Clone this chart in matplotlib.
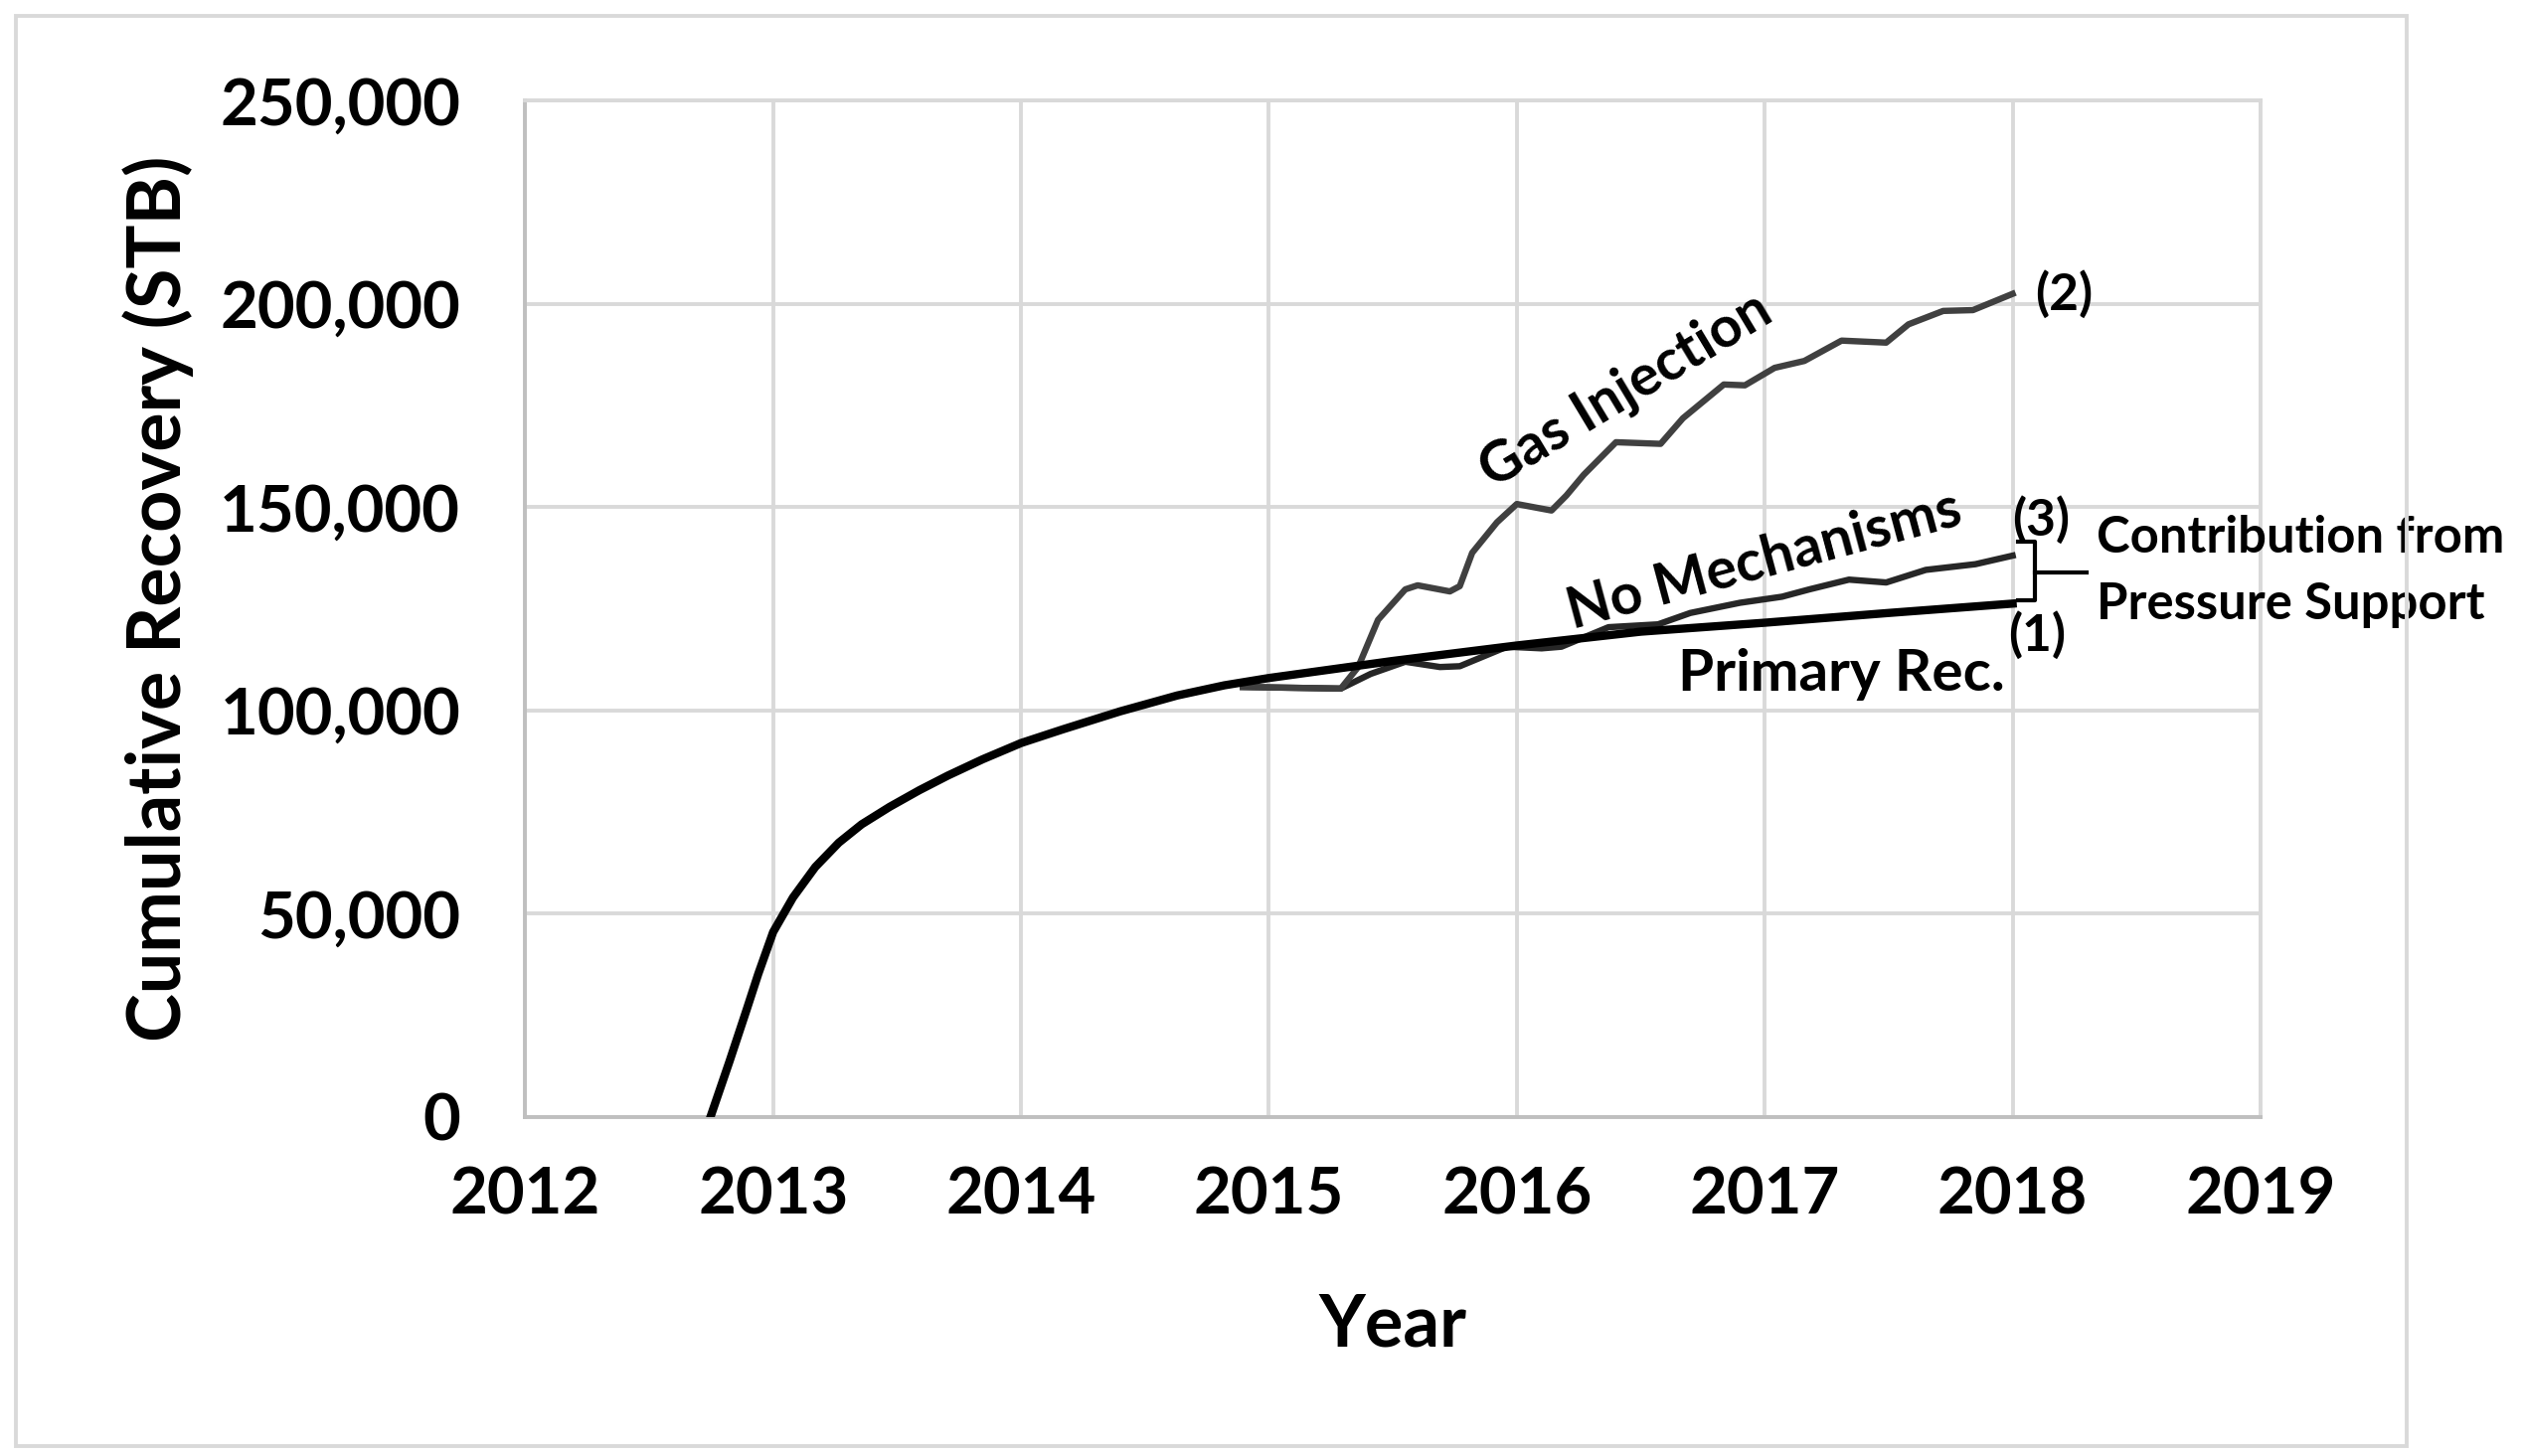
import matplotlib
matplotlib.use('Agg')
import matplotlib.pyplot as plt
from matplotlib.patches import Rectangle
from matplotlib.ticker import FuncFormatter

plt.rcParams['font.family'] = ['Lato', 'DejaVu Sans']
plt.rcParams['font.weight'] = 'bold'

# Values (year, cumulative STB in thousands)
primary_year = [2012.747, 2012.824, 2012.893, 2012.94, 2013.0, 2013.08, 2013.17,
                2013.265, 2013.357, 2013.47, 2013.59, 2013.705, 2013.845, 2014.0,
                2014.17, 2014.4, 2014.63, 2014.82, 2015.0, 2015.5, 2016.0, 2016.5,
                2017.0, 2017.5, 2018.0]
primary_stb = [0, 13.7, 26.4, 35.2, 45.5, 54.0, 61.5, 67.5, 72.0, 76.3, 80.4, 84.0,
               88.0, 92.0, 95.4, 99.8, 103.7, 106.2, 108.0, 112.2, 116.0, 119.4,
               121.6, 124.0, 126.3]

gas_year = [2014.895, 2015.29, 2015.36, 2015.44, 2015.55, 2015.6, 2015.73, 2015.77,
            2015.82, 2015.92, 2016.0, 2016.14, 2016.2, 2016.27, 2016.4, 2016.58,
            2016.67, 2016.835, 2016.92, 2017.04, 2017.16, 2017.31, 2017.49, 2017.58,
            2017.72, 2017.84, 2018.0]
gas_stb = [105.8, 105.4, 110.7, 122.3, 129.8, 130.8, 129.3, 130.6, 138.8, 146.3,
           150.8, 149.2, 152.9, 158.0, 166.0, 165.6, 171.9, 180.2, 180.0, 184.3,
           186.0, 191.0, 190.5, 195.0, 198.3, 198.5, 202.5]

nomech_year = [2014.895, 2015.29, 2015.41, 2015.55, 2015.69, 2015.77, 2015.96, 2016.1,
               2016.18, 2016.37, 2016.57, 2016.7, 2016.9, 2017.07, 2017.18, 2017.34,
               2017.49, 2017.65, 2017.85, 2018.0]
nomech_stb = [105.8, 105.4, 109.0, 112.0, 110.7, 110.9, 115.7, 115.3, 115.7, 120.5,
              121.2, 124.0, 126.5, 128.0, 129.8, 132.2, 131.5, 134.6, 136.0, 138.1]

year_ticks = [2012, 2013, 2014, 2015, 2016, 2017, 2018, 2019]
stb_ticks = [0, 50000, 100000, 150000, 200000, 250000]

fig = plt.figure(figsize=(25.39, 14.65), dpi=100)
ax = fig.add_axes([0.2081, 0.2328, 0.6875, 0.698])

grid_c = '#d9d9d9'
ax.plot(primary_year, [v * 1000 for v in primary_stb], color='black', lw=6, zorder=4,
        solid_joinstyle='round')
ax.plot(nomech_year, [v * 1000 for v in nomech_stb], color='#262626', lw=4.6, zorder=3,
        solid_joinstyle='round')
ax.plot(gas_year, [v * 1000 for v in gas_stb], color='#404040', lw=4.6, zorder=3,
        solid_joinstyle='round')

ax.set_xlim(2012, 2019)
ax.set_ylim(0, 250000)
ax.set_xticks(year_ticks)
ax.set_yticks(stb_ticks)
ax.yaxis.set_major_formatter(FuncFormatter(lambda v, p: f'{int(v):,}'))
ax.grid(True, color=grid_c, lw=2.8, zorder=0)
ax.set_axisbelow(True)
for s in ['top', 'right']:
    ax.spines[s].set_color(grid_c)
    ax.spines[s].set_linewidth(2.8)
for s in ['left', 'bottom']:
    ax.spines[s].set_color('#bfbfbf')
    ax.spines[s].set_linewidth(2.8)
ax.tick_params(length=0, labelsize=47, pad=0)
ax.tick_params(axis='y', pad=47)
ax.tick_params(axis='x', pad=36)

ax.set_ylabel('Cumulative Recovery (STB)', fontsize=53, fontweight='bold')
ax.yaxis.set_label_coords(-0.2118, 0.51)
ax.yaxis.label.set_va('center')
ax.set_xlabel('Year', fontsize=52, fontweight='bold')
ax.xaxis.set_label_coords(0.5, -0.205)
ax.xaxis.label.set_va('center')

# curve annotations
ax.text(2016.44, 178800, 'Gas Injection', fontsize=41, rotation=31,
        ha='center', va='center')
ax.text(2017.0, 136800, 'No Mechanisms', fontsize=41, rotation=15,
        ha='center', va='center')
ax.text(2017.31, 108800, 'Primary Rec.', fontsize=42, ha='center', va='center')
ax.text(2018.206, 202400, '(2)', fontsize=37, ha='center', va='center', clip_on=False)
ax.text(2018.114, 146800, '(3)', fontsize=37, ha='center', va='center', clip_on=False)
ax.text(2018.10, 118400, '(1)', fontsize=37, ha='center', va='center', clip_on=False)

# bracket for the pressure support contribution
ax.plot([2018.02, 2018.088, 2018.088, 2018.02], [141600, 141600, 127100, 127100],
        color='black', lw=3, clip_on=False, solid_joinstyle='round')
ax.plot([2018.088, 2018.30], [134000, 134000], color='black', lw=3, clip_on=False)
ax.text(2018.34, 142400, 'Contribution from', fontsize=36.5, ha='left', va='center',
        clip_on=False)
ax.text(2018.34, 126000, 'Pressure Support', fontsize=36.5, ha='left', va='center',
        clip_on=False)

# chart area border
fig.patches.append(Rectangle((0.0064, 0.0067), 0.9472, 0.9821, transform=fig.transFigure,
                             fill=False, edgecolor=grid_c, lw=2.8))

fig.savefig('out.png', dpi=100, facecolor='white')
